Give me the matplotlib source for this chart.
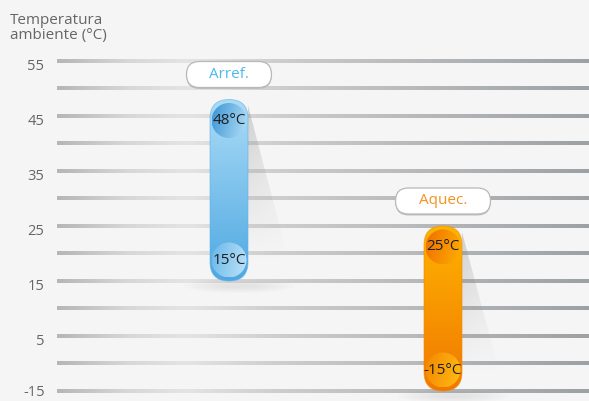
import numpy as np
import matplotlib.pyplot as plt
from matplotlib.patches import FancyBboxPatch, Ellipse, Polygon
from matplotlib.colors import to_rgb
from matplotlib.transforms import ScaledTranslation

plt.rcParams['font.family'] = ['Open Sans', 'DejaVu Sans']

# data
tick_values = [55, 45, 35, 25, 15, 5, -15]
modes = ['Arref.', 'Aquec.']
temp_max = [48, 25]
temp_min = [15, -15]

# styles
mode_text_colors = ['#4db8ea', '#f5921e']
bar_top_colors = ['#acdcf6', '#ffb400']
bar_bottom_colors = ['#4ea8e2', '#f07800']
bar_edge_colors = ['#5fb2e6', '#f38a00']
circ_top_colors = [('#3a95d5', '#b3def7'), ('#ee7000', '#ffae00')]
circ_bot_colors = [('#69b7e9', '#bfe4f9'), ('#f58800', '#ffbc14')]
pill_widths = [85, 95]

BG = '#f5f5f5'
PX_X = 214.0   # pixels per x unit
PX_Y = 55.0    # pixels per tick step


def px(n):
    return n / PX_X


def py(n):
    return n / PX_Y


def to_axis(v):
    # ticks are evenly spaced whatever value is printed on them
    return np.interp(-np.asarray(v, float), -np.array(tick_values, float),
                     np.arange(len(tick_values)))


def ramp(stops, n=256):
    pos = [s[0] for s in stops]
    cols = np.array([to_rgb(s[1]) for s in stops])
    t = np.linspace(0, 1, n)
    return np.stack([np.interp(t, pos, cols[:, k]) for k in range(3)], axis=-1)


fig = plt.figure(figsize=(5.89, 4.01), dpi=100)
fig.patch.set_facecolor(BG)
ax = fig.add_axes([57 / 589, 0, 532 / 589, 1])
ax.set_facecolor('none')
xmin, xmax = -172 / PX_X, 360 / PX_X
ymin, ymax = -61 / PX_Y, 340 / PX_Y

# grid lines, grey gradient from left to right
line_grad = ramp([(0, '#b4b6b8'), (0.13, '#d6d7d8'), (0.24, '#e4e4e4'),
                  (0.42, '#cdcdcd'), (0.6, '#bdbfc1'), (1, '#9ea1a3')])[None, :, :]
for g in np.arange(0, len(tick_values) - 0.99, 0.5):
    ax.imshow(line_grad, extent=[xmin, xmax, g + py(1.6), g - py(1.6)],
              aspect='auto', interpolation='bilinear', zorder=1)

asp = PX_X / PX_Y
for i, name in enumerate(modes):
    x = i
    top = float(to_axis(temp_max[i]))
    bot = float(to_axis(temp_min[i]))
    w = px(38)
    right = x + w / 2
    h_px = (bot - top) * PX_Y

    # ground shadow
    for k in range(6):
        e = Ellipse((x + px(10), bot + py(5)), px(110 - 14 * k), py(14 - 2 * k),
                    facecolor='#808080', edgecolor='none', alpha=0.025, zorder=2)
        ax.add_patch(e)

    # slanted shadow on the right
    sw = px(0.24 * h_px)
    shadow = Polygon([(right, top + py(6)), (right + sw, bot - py(10)),
                      (right, bot)], closed=True, facecolor='none', edgecolor='none')
    ax.add_patch(shadow)
    yy, xx = np.mgrid[0:1:100j, 0:1:60j]
    alpha = 0.34 * np.clip(1 - yy * 1.1, 0, 1) ** 1.2 * (1 - 0.55 * xx)
    rgba = np.zeros((100, 60, 4))
    rgba[..., :3] = 0.5
    rgba[..., 3] = alpha
    im = ax.imshow(rgba, extent=[right, right + sw, bot, top],
                   aspect='auto', interpolation='bilinear', zorder=2)
    im.set_clip_path(shadow)

    # capsule bar with vertical gradient
    capsule = FancyBboxPatch((x - w / 2, top), w, bot - top,
                             boxstyle=f"round,pad=0,rounding_size={px(19)}",
                             mutation_aspect=asp, facecolor='none', edgecolor='none')
    ax.add_patch(capsule)
    vgrad = ramp([(0, bar_top_colors[i]), (1, bar_bottom_colors[i])])[:, None, :]
    im = ax.imshow(vgrad, extent=[x - w / 2, x + w / 2, bot, top],
                   aspect='auto', interpolation='bilinear', zorder=3)
    im.set_clip_path(capsule)
    rim = FancyBboxPatch((x - w / 2, top), w, bot - top,
                         boxstyle=f"round,pad=0,rounding_size={px(19)}",
                         mutation_aspect=asp, facecolor='none',
                         edgecolor=bar_edge_colors[i], linewidth=0.7, alpha=0.6, zorder=3.5)
    ax.add_patch(rim)

    # circles with the values
    for yc, cols, val in [(top + py(21), circ_top_colors[i], temp_max[i]),
                          (bot - py(21), circ_bot_colors[i], temp_min[i])]:
        circ = Ellipse((x, yc), px(35), py(35), facecolor='none', edgecolor='none')
        ax.add_patch(circ)
        yy, xx = np.mgrid[0:1:64j, 0:1:64j]
        t = np.clip(0.8 * xx + 0.2 * yy, 0, 1)
        c0, c1 = np.array(to_rgb(cols[0])), np.array(to_rgb(cols[1]))
        img = c0 + (c1 - c0) * t[..., None]
        im = ax.imshow(img, extent=[x - px(17.5), x + px(17.5), yc + py(17.5), yc - py(17.5)],
                       aspect='auto', interpolation='bilinear', zorder=4)
        im.set_clip_path(circ)
        ax.text(x, yc, f"{val}°C", ha='center', va='center', fontsize=11,
                color='#1e1e1e', zorder=6)

    # pill label above the bar
    pw = px(pill_widths[i])
    ph = py(26)
    pc = top - py(25)
    sh = FancyBboxPatch((x - pw / 2, pc - ph / 2 + py(1.5)), pw, ph,
                        boxstyle=f"round,pad=0,rounding_size={px(13)}",
                        mutation_aspect=asp, facecolor='#c0c0c0', edgecolor='none', zorder=5)
    ax.add_patch(sh)
    pill = FancyBboxPatch((x - pw / 2, pc - ph / 2), pw, ph,
                          boxstyle=f"round,pad=0,rounding_size={px(13)}",
                          mutation_aspect=asp, facecolor='white', edgecolor='#b8b8b8',
                          linewidth=0.9, zorder=5)
    ax.add_patch(pill)
    ax.text(x, pc, name, ha='center', va='center', fontsize=11,
            color=mode_text_colors[i], zorder=6)

ax.set_xlim(xmin, xmax)
ax.set_ylim(ymax, ymin)
for s in ax.spines.values():
    s.set_visible(False)
ax.set_xticks([])
ax.set_yticks(np.arange(len(tick_values)))
ax.set_yticklabels([str(v) for v in tick_values])
ax.tick_params(axis='y', length=0, pad=9, labelsize=10.5, labelcolor='#666666')
labels = ax.get_yticklabels()
for lab in labels[:-1]:
    lab.set_transform(lab.get_transform() + ScaledTranslation(0, -0.035, fig.dpi_scale_trans))
# keep the bottom label inside the figure
labels[-1].set_transform(labels[-1].get_transform() + ScaledTranslation(0, 0.005, fig.dpi_scale_trans))

fig.text(10 / 589, 1 - 13 / 401, "Temperatura\nambiente (°C)", ha='left', va='top',
         fontsize=11, color='#666666', linespacing=0.98)

fig.savefig('out.png', dpi=100, facecolor=BG)
